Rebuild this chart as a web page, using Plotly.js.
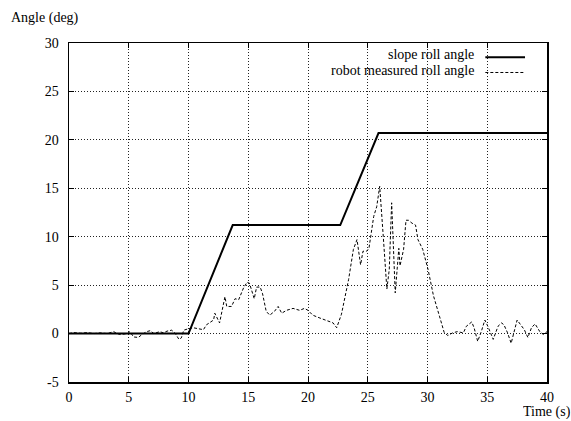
<!DOCTYPE html>
<html>
<head>
<meta charset="utf-8">
<script src="https://cdn.plot.ly/plotly-3.0.1.min.js"></script>
<style>html,body{margin:0;padding:0;background:#fff;}#chart{width:571px;height:421px;}</style>
</head>
<body>
<div id="chart"></div>
<script>
const slopeTime = [0, 10, 13.7, 22.7, 25.9, 40];
const slopeAngle = [0, 0, 11.2, 11.2, 20.7, 20.7];

const robotTime = [0, 0.4, 1.0, 1.5, 2.1, 2.6, 3.2, 3.75, 4.0, 4.3, 4.9, 5.1, 5.4, 5.8, 6.1, 6.5, 6.8, 7.1, 7.6, 7.9, 8.2, 8.6, 8.9, 9.2, 9.4, 9.6, 10.0,
  10.4, 11.25, 11.5, 12.1, 12.2, 12.6, 12.8, 13.05, 13.2, 13.6, 13.9, 14.2, 14.6, 14.9, 15.1, 15.5, 15.7, 16.0, 16.2, 16.5, 16.8, 17.2, 17.5, 17.8, 18.2, 18.75, 19.3, 19.7, 20.0, 20.4, 21.0, 21.5, 22.1, 22.4,
  22.8, 23.4, 23.8, 24.1, 24.4, 24.6, 24.9, 25.1, 25.5, 25.75, 26.0, 26.3, 26.6, 26.8, 27.0, 27.3, 27.6, 27.7, 28.0, 28.2, 28.4, 28.7, 29.0, 29.2, 29.6, 30.05, 30.5, 31.0, 31.4, 31.7,
  32.1, 32.5, 33.0, 33.25, 33.7, 33.9, 34.2, 34.5, 34.8, 35.05, 35.5, 35.9, 36.2, 36.4, 36.7, 37.0, 37.3, 37.5, 37.8, 38.1, 38.4, 38.7, 39.0, 39.4, 39.7, 40.0];
const robotAngle = [0, 0.1, 0.03, 0.1, 0, 0.07, 0, 0.2, 0, -0.1, 0, 0.2, -0.35, -0.4, -0.1, 0.2, 0.3, 0, 0.2, 0.07, 0.25, 0.35, 0, -0.6, -0.45, 0.35, 0.5,
  0.6, 0.4, 0.9, 1.4, 2.1, 1.1, 2.4, 3.8, 2.8, 2.8, 3.6, 3.5, 4.7, 5.3, 5.2, 3.6, 4.8, 4.8, 4.1, 2.3, 1.9, 2.3, 2.8, 2.1, 2.4, 2.6, 2.4, 2.6, 2.4, 1.9, 1.6, 1.4, 1.1, 0.6,
  2.0, 5.6, 8.7, 9.7, 7.1, 8.5, 8.5, 8.8, 12.1, 13.1, 15.2, 10.0, 4.6, 6.6, 13.5, 4.2, 8.8, 7.0, 8.7, 11.7, 11.7, 11.4, 11.2, 9.7, 8.7, 6.6, 3.9, 1.8, 0.1, -0.2,
  0.07, 0.2, 0.07, 0.75, 1.2, 0.6, -0.8, 0.2, 1.4, 0.75, -0.6, 0.75, 1.1, 0.9, 0.07, -1.0, 0.4, 1.4, 0.9, 0.4, -0.4, 0.6, 1.0, 0.2, -0.1, 0.2];

const xTicks = [0, 5, 10, 15, 20, 25, 30, 35, 40];
const yTicks = [-5, 0, 5, 10, 15, 20, 25, 30];
const seriesNames = ['slope roll angle', 'robot measured roll angle'];

const FONT = "'Liberation Serif', 'Times New Roman', Times, serif";
const FS = 14;

const traces = [
  {x: slopeTime, y: slopeAngle, mode: 'lines', name: seriesNames[0],
   line: {color: '#000', width: 2}, showlegend: false},
  {x: robotTime, y: robotAngle, mode: 'lines', name: seriesNames[1],
   line: {color: '#000', width: 1, dash: '3px,2px'}, showlegend: false}
];

const axisCommon = {
  showline: true, mirror: 'allticks', linecolor: '#000', linewidth: 1.5,
  ticks: 'inside', ticklen: 5, tickcolor: '#000',
  showgrid: true, gridcolor: '#222', griddash: '1px,2px', gridwidth: 1,
  zeroline: false, ticklabelstandoff: 6,
  tickfont: {family: FONT, size: FS, color: '#000'}
};

const layout = {
  width: 571, height: 421,
  margin: {l: 69, r: 24, t: 43, b: 39},
  paper_bgcolor: '#fff', plot_bgcolor: '#fff',
  font: {family: FONT, size: FS, color: '#000'},
  showlegend: false,
  xaxis: Object.assign({}, axisCommon, {range: [0, 40], tickvals: xTicks, ticktext: xTicks.map(String), ticklabelstandoff: 2}),
  yaxis: Object.assign({}, axisCommon, {range: [-5, 30], tickvals: yTicks, ticktext: yTicks.map(String)}),
  annotations: [
    {text: 'Angle (deg)', xref: 'paper', yref: 'paper', x: -0.125, y: 1.075, xanchor: 'left', yanchor: 'middle', showarrow: false, font: {family: FONT, size: FS}},
    {text: 'Time (s)', xref: 'paper', yref: 'paper', x: 1.0, y: -0.0885, xanchor: 'center', yanchor: 'middle', height: 14, borderpad: 0, showarrow: false, font: {family: FONT, size: FS}},
    {text: seriesNames[0], xref: 'paper', yref: 'paper', x: 0.852, y: 0.965, xanchor: 'right', yanchor: 'middle', showarrow: false, font: {family: FONT, size: FS}},
    {text: seriesNames[1], xref: 'paper', yref: 'paper', x: 0.852, y: 0.918, xanchor: 'right', yanchor: 'middle', showarrow: false, font: {family: FONT, size: FS}}
  ],
  shapes: [
    {type: 'line', xref: 'paper', yref: 'paper', x0: 0.871, x1: 0.954, y0: 0.958, y1: 0.958, line: {color: '#000', width: 2}},
    {type: 'line', xref: 'paper', yref: 'paper', x0: 0.871, x1: 0.954, y0: 0.913, y1: 0.913, line: {color: '#000', width: 1, dash: '3px,2px'}}
  ]
};

Plotly.newPlot('chart', traces, layout, {staticPlot: true, displayModeBar: false});
</script>
</body>
</html>
